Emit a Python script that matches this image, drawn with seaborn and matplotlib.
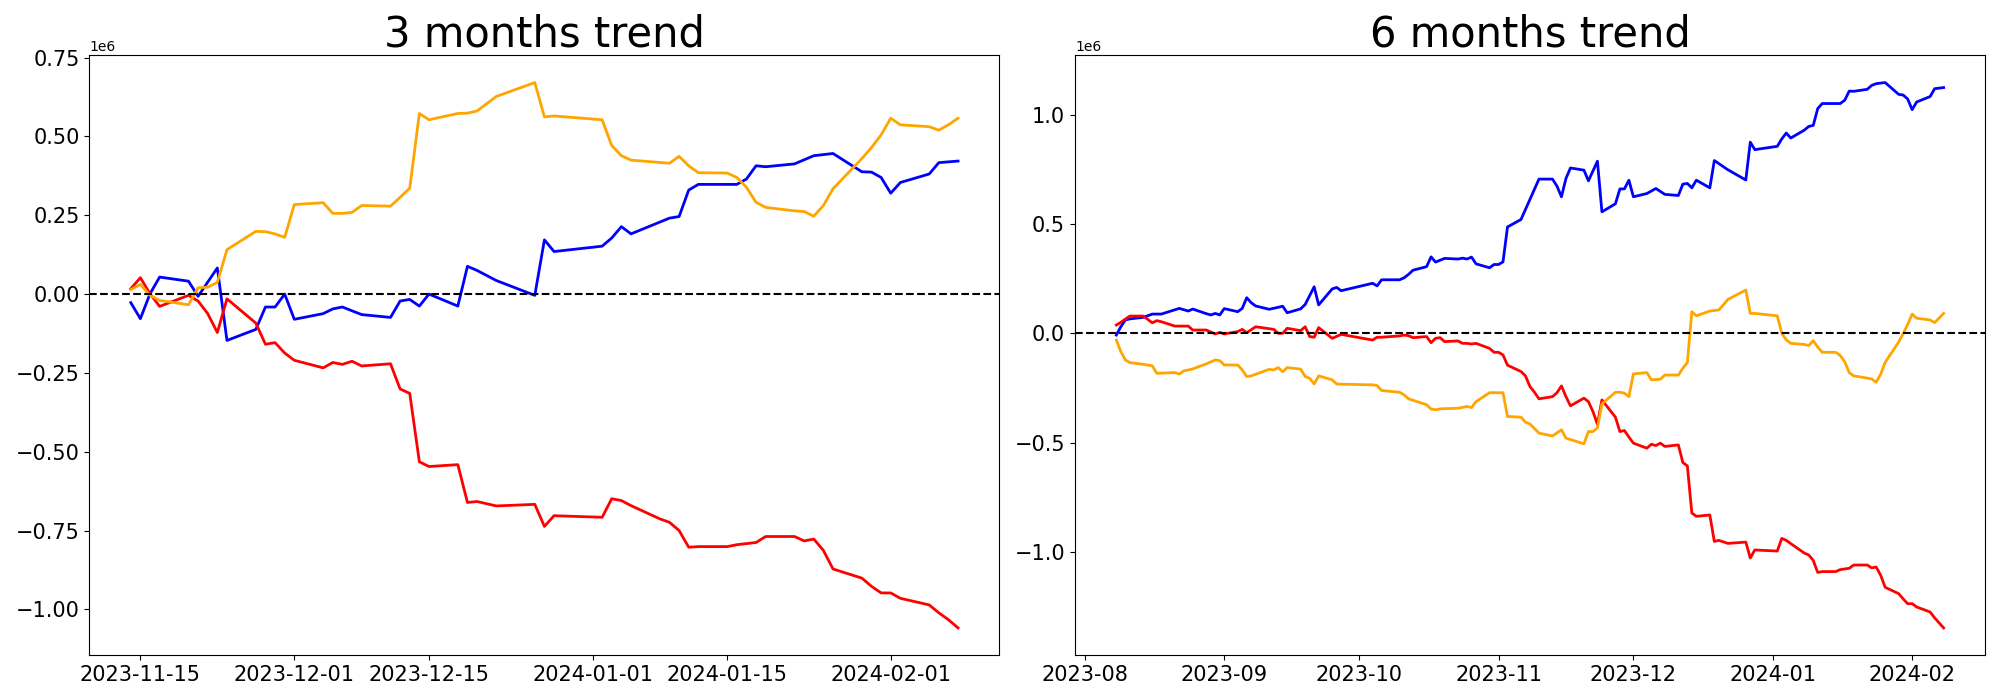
import pandas as pd
import matplotlib.pyplot as plt
import seaborn as sns

# values are in millions

# ---- 3 months ----
blue3_dates = ["2023-11-14", "2023-11-15", "2023-11-16", "2023-11-17", "2023-11-20", "2023-11-21",
               "2023-11-23", "2023-11-24", "2023-11-27", "2023-11-28", "2023-11-29", "2023-11-30",
               "2023-12-01", "2023-12-04", "2023-12-05", "2023-12-06", "2023-12-08", "2023-12-11",
               "2023-12-12", "2023-12-13", "2023-12-14", "2023-12-15", "2023-12-18", "2023-12-19",
               "2023-12-20", "2023-12-22", "2023-12-26", "2023-12-27", "2023-12-28", "2024-01-02",
               "2024-01-03", "2024-01-04", "2024-01-05", "2024-01-09", "2024-01-10", "2024-01-11",
               "2024-01-12", "2024-01-16", "2024-01-17", "2024-01-18", "2024-01-19", "2024-01-22",
               "2024-01-24", "2024-01-26", "2024-01-29", "2024-01-30", "2024-01-31", "2024-02-01",
               "2024-02-02", "2024-02-05", "2024-02-06", "2024-02-08"]
blue3_vals = [-0.027, -0.078, 0.001, 0.054, 0.041, -0.007,
              0.083, -0.147, -0.112, -0.041, -0.041, 0.000,
              -0.080, -0.062, -0.047, -0.041, -0.065, -0.074,
              -0.022, -0.017, -0.038, 0.000, -0.038, 0.088,
              0.075, 0.043, -0.004, 0.172, 0.135, 0.152,
              0.178, 0.214, 0.191, 0.241, 0.246, 0.330,
              0.348, 0.348, 0.365, 0.407, 0.404, 0.413,
              0.439, 0.446, 0.388, 0.387, 0.370, 0.320,
              0.354, 0.381, 0.417, 0.422]

orange3_dates = ["2023-11-14", "2023-11-15", "2023-11-16", "2023-11-17", "2023-11-20", "2023-11-21",
                 "2023-11-22", "2023-11-23", "2023-11-24", "2023-11-27", "2023-11-28", "2023-11-29",
                 "2023-11-30", "2023-12-01", "2023-12-04", "2023-12-05", "2023-12-06", "2023-12-07",
                 "2023-12-08", "2023-12-11", "2023-12-12", "2023-12-13", "2023-12-14", "2023-12-15",
                 "2023-12-18", "2023-12-19", "2023-12-20", "2023-12-22", "2023-12-26", "2023-12-27",
                 "2023-12-28", "2024-01-02", "2024-01-03", "2024-01-04", "2024-01-05", "2024-01-09",
                 "2024-01-10", "2024-01-11", "2024-01-12", "2024-01-15", "2024-01-16", "2024-01-17",
                 "2024-01-18", "2024-01-19", "2024-01-22", "2024-01-23", "2024-01-24", "2024-01-25",
                 "2024-01-26", "2024-01-29", "2024-01-30", "2024-01-31", "2024-02-01", "2024-02-02",
                 "2024-02-05", "2024-02-06", "2024-02-07", "2024-02-08"]
orange3_vals = [0.014, 0.031, -0.004, -0.020, -0.034, 0.020,
                0.022, 0.037, 0.141, 0.199, 0.198, 0.191,
                0.180, 0.284, 0.290, 0.256, 0.256, 0.259,
                0.281, 0.279, 0.307, 0.336, 0.573, 0.553,
                0.573, 0.574, 0.581, 0.627, 0.671, 0.562,
                0.565, 0.553, 0.471, 0.439, 0.425, 0.415,
                0.437, 0.407, 0.385, 0.384, 0.370, 0.339,
                0.291, 0.275, 0.264, 0.262, 0.247, 0.281,
                0.334, 0.430, 0.465, 0.505, 0.558, 0.537,
                0.531, 0.520, 0.537, 0.558]

red3_dates = ["2023-11-14", "2023-11-15", "2023-11-16", "2023-11-17", "2023-11-20", "2023-11-21",
              "2023-11-22", "2023-11-23", "2023-11-24", "2023-11-27", "2023-11-28", "2023-11-29",
              "2023-11-30", "2023-12-01", "2023-12-04", "2023-12-05", "2023-12-06", "2023-12-07",
              "2023-12-08", "2023-12-11", "2023-12-12", "2023-12-13", "2023-12-14", "2023-12-15",
              "2023-12-18", "2023-12-19", "2023-12-20", "2023-12-22", "2023-12-26", "2023-12-27",
              "2023-12-28", "2024-01-02", "2024-01-03", "2024-01-04", "2024-01-05", "2024-01-08",
              "2024-01-09", "2024-01-10", "2024-01-11", "2024-01-12", "2024-01-15", "2024-01-16",
              "2024-01-18", "2024-01-19", "2024-01-22", "2024-01-23", "2024-01-24", "2024-01-25",
              "2024-01-26", "2024-01-29", "2024-01-30", "2024-01-31", "2024-02-01", "2024-02-02",
              "2024-02-05", "2024-02-06", "2024-02-07", "2024-02-08"]
red3_vals = [0.017, 0.052, 0.001, -0.039, -0.004, -0.022,
             -0.062, -0.122, -0.015, -0.092, -0.159, -0.154,
             -0.187, -0.210, -0.234, -0.217, -0.223, -0.213,
             -0.228, -0.221, -0.301, -0.315, -0.532, -0.547,
             -0.541, -0.661, -0.658, -0.672, -0.667, -0.737,
             -0.703, -0.708, -0.649, -0.655, -0.671, -0.713,
             -0.724, -0.750, -0.803, -0.801, -0.801, -0.795,
             -0.788, -0.769, -0.769, -0.783, -0.777, -0.813,
             -0.872, -0.901, -0.927, -0.948, -0.948, -0.965,
             -0.986, -1.011, -1.033, -1.059]

# ---- 6 months ----
blue6_dates = ["2023-08-08", "2023-08-09", "2023-08-10", "2023-08-11", "2023-08-14", "2023-08-16",
               "2023-08-18", "2023-08-22", "2023-08-24", "2023-08-25", "2023-08-28", "2023-08-29",
               "2023-08-30", "2023-08-31", "2023-09-01", "2023-09-04", "2023-09-05", "2023-09-06",
               "2023-09-07", "2023-09-08", "2023-09-11", "2023-09-13", "2023-09-14", "2023-09-15",
               "2023-09-18", "2023-09-19", "2023-09-21", "2023-09-22", "2023-09-25", "2023-09-26",
               "2023-09-27", "2023-10-04", "2023-10-05", "2023-10-06", "2023-10-10", "2023-10-11",
               "2023-10-12", "2023-10-13", "2023-10-16", "2023-10-17", "2023-10-18", "2023-10-20",
               "2023-10-23", "2023-10-24", "2023-10-25", "2023-10-26", "2023-10-27", "2023-10-30",
               "2023-10-31", "2023-11-01", "2023-11-02", "2023-11-03", "2023-11-06", "2023-11-10",
               "2023-11-13", "2023-11-14", "2023-11-15", "2023-11-16", "2023-11-17", "2023-11-20",
               "2023-11-21", "2023-11-23", "2023-11-24", "2023-11-27", "2023-11-28", "2023-11-29",
               "2023-11-30", "2023-12-01", "2023-12-04", "2023-12-06", "2023-12-08", "2023-12-11",
               "2023-12-12", "2023-12-13", "2023-12-14", "2023-12-15", "2023-12-18", "2023-12-19",
               "2023-12-22", "2023-12-26", "2023-12-27", "2023-12-28", "2024-01-02", "2024-01-03",
               "2024-01-04", "2024-01-05", "2024-01-08", "2024-01-09", "2024-01-10", "2024-01-11",
               "2024-01-12", "2024-01-16", "2024-01-17", "2024-01-18", "2024-01-19", "2024-01-22",
               "2024-01-23", "2024-01-24", "2024-01-26", "2024-01-29", "2024-01-30", "2024-01-31",
               "2024-02-01", "2024-02-02", "2024-02-05", "2024-02-06", "2024-02-08"]
blue6_vals = [-0.008, 0.030, 0.061, 0.066, 0.073, 0.088,
              0.088, 0.114, 0.102, 0.111, 0.090, 0.084,
              0.091, 0.084, 0.113, 0.099, 0.114, 0.163,
              0.140, 0.125, 0.110, 0.119, 0.124, 0.094,
              0.112, 0.132, 0.213, 0.130, 0.203, 0.210,
              0.195, 0.229, 0.217, 0.245, 0.245, 0.254,
              0.270, 0.289, 0.305, 0.350, 0.326, 0.343,
              0.340, 0.344, 0.340, 0.349, 0.318, 0.300,
              0.315, 0.315, 0.327, 0.487, 0.521, 0.706,
              0.706, 0.674, 0.625, 0.709, 0.757, 0.747,
              0.698, 0.788, 0.556, 0.593, 0.661, 0.661,
              0.701, 0.625, 0.640, 0.663, 0.636, 0.631,
              0.683, 0.686, 0.666, 0.701, 0.666, 0.791,
              0.749, 0.702, 0.875, 0.841, 0.856, 0.890,
              0.917, 0.894, 0.930, 0.947, 0.952, 1.029,
              1.052, 1.052, 1.067, 1.109, 1.108, 1.117,
              1.135, 1.143, 1.148, 1.094, 1.091, 1.073,
              1.024, 1.059, 1.084, 1.120, 1.125]

orange6_dates = ["2023-08-08", "2023-08-09", "2023-08-10", "2023-08-11", "2023-08-14", "2023-08-16",
                 "2023-08-17", "2023-08-21", "2023-08-22", "2023-08-23", "2023-08-24", "2023-08-25",
                 "2023-08-28", "2023-08-30", "2023-08-31", "2023-09-01", "2023-09-04", "2023-09-05",
                 "2023-09-06", "2023-09-07", "2023-09-11", "2023-09-12", "2023-09-13", "2023-09-14",
                 "2023-09-15", "2023-09-18", "2023-09-19", "2023-09-20", "2023-09-21", "2023-09-22",
                 "2023-09-25", "2023-09-26", "2023-09-27", "2023-10-04", "2023-10-05", "2023-10-06",
                 "2023-10-10", "2023-10-11", "2023-10-12", "2023-10-16", "2023-10-17", "2023-10-18",
                 "2023-10-19", "2023-10-23", "2023-10-25", "2023-10-26", "2023-10-27", "2023-10-30",
                 "2023-10-31", "2023-11-02", "2023-11-03", "2023-11-06", "2023-11-07", "2023-11-08",
                 "2023-11-10", "2023-11-13", "2023-11-14", "2023-11-15", "2023-11-16", "2023-11-20",
                 "2023-11-21", "2023-11-22", "2023-11-23", "2023-11-24", "2023-11-27", "2023-11-28",
                 "2023-11-29", "2023-11-30", "2023-12-01", "2023-12-04", "2023-12-05", "2023-12-07",
                 "2023-12-08", "2023-12-11", "2023-12-12", "2023-12-13", "2023-12-14", "2023-12-15",
                 "2023-12-18", "2023-12-20", "2023-12-21", "2023-12-22", "2023-12-26", "2023-12-27",
                 "2023-12-28", "2024-01-02", "2024-01-03", "2024-01-04", "2024-01-05", "2024-01-08",
                 "2024-01-09", "2024-01-10", "2024-01-11", "2024-01-12", "2024-01-15", "2024-01-16",
                 "2024-01-17", "2024-01-18", "2024-01-19", "2024-01-22", "2024-01-23", "2024-01-24",
                 "2024-01-25", "2024-01-26", "2024-01-29", "2024-01-30", "2024-01-31", "2024-02-01",
                 "2024-02-02", "2024-02-05", "2024-02-06", "2024-02-07", "2024-02-08"]
orange6_vals = [-0.031, -0.084, -0.122, -0.134, -0.142, -0.149,
                -0.183, -0.180, -0.187, -0.172, -0.168, -0.163,
                -0.140, -0.122, -0.125, -0.145, -0.145, -0.168,
                -0.198, -0.195, -0.165, -0.168, -0.157, -0.176,
                -0.157, -0.164, -0.198, -0.206, -0.232, -0.195,
                -0.213, -0.232, -0.233, -0.236, -0.239, -0.262,
                -0.270, -0.282, -0.300, -0.327, -0.347, -0.350,
                -0.346, -0.343, -0.335, -0.340, -0.313, -0.272,
                -0.272, -0.272, -0.381, -0.384, -0.407, -0.415,
                -0.457, -0.470, -0.456, -0.442, -0.480, -0.506,
                -0.450, -0.450, -0.434, -0.323, -0.270, -0.270,
                -0.274, -0.290, -0.186, -0.180, -0.213, -0.210,
                -0.191, -0.191, -0.160, -0.134, 0.099, 0.080,
                0.102, 0.107, 0.130, 0.155, 0.198, 0.091,
                0.091, 0.080, 0.000, -0.030, -0.046, -0.051,
                -0.056, -0.034, -0.063, -0.087, -0.087, -0.102,
                -0.130, -0.180, -0.195, -0.205, -0.209, -0.224,
                -0.187, -0.133, -0.040, -0.001, 0.040, 0.088,
                0.069, 0.061, 0.049, 0.070, 0.091]

red6_dates = ["2023-08-08", "2023-08-09", "2023-08-10", "2023-08-11", "2023-08-14", "2023-08-16",
              "2023-08-17", "2023-08-18", "2023-08-21", "2023-08-24", "2023-08-25", "2023-08-28",
              "2023-08-30", "2023-08-31", "2023-09-01", "2023-09-04", "2023-09-05", "2023-09-06",
              "2023-09-08", "2023-09-12", "2023-09-13", "2023-09-14", "2023-09-15", "2023-09-18",
              "2023-09-19", "2023-09-20", "2023-09-21", "2023-09-22", "2023-09-25", "2023-09-27",
              "2023-10-04", "2023-10-05", "2023-10-06", "2023-10-10", "2023-10-11", "2023-10-12",
              "2023-10-13", "2023-10-16", "2023-10-17", "2023-10-18", "2023-10-19", "2023-10-20",
              "2023-10-23", "2023-10-24", "2023-10-25", "2023-10-26", "2023-10-27", "2023-10-30",
              "2023-10-31", "2023-11-01", "2023-11-02", "2023-11-03", "2023-11-06", "2023-11-07",
              "2023-11-08", "2023-11-09", "2023-11-10", "2023-11-13", "2023-11-14", "2023-11-15",
              "2023-11-16", "2023-11-17", "2023-11-20", "2023-11-21", "2023-11-22", "2023-11-23",
              "2023-11-24", "2023-11-27", "2023-11-28", "2023-11-29", "2023-11-30", "2023-12-01",
              "2023-12-04", "2023-12-05", "2023-12-06", "2023-12-07", "2023-12-08", "2023-12-11",
              "2023-12-12", "2023-12-13", "2023-12-14", "2023-12-15", "2023-12-18", "2023-12-19",
              "2023-12-20", "2023-12-22", "2023-12-26", "2023-12-27", "2023-12-28", "2024-01-02",
              "2024-01-03", "2024-01-04", "2024-01-05", "2024-01-08", "2024-01-09", "2024-01-10",
              "2024-01-11", "2024-01-12", "2024-01-15", "2024-01-16", "2024-01-17", "2024-01-18",
              "2024-01-19", "2024-01-22", "2024-01-23", "2024-01-24", "2024-01-25", "2024-01-26",
              "2024-01-29", "2024-01-30", "2024-01-31", "2024-02-01", "2024-02-02", "2024-02-05",
              "2024-02-06", "2024-02-08"]
red6_vals = [0.038, 0.050, 0.065, 0.079, 0.079, 0.048,
             0.058, 0.053, 0.033, 0.033, 0.015, 0.015,
             -0.003, 0.004, -0.003, 0.008, 0.018, 0.003,
             0.030, 0.018, 0.000, 0.000, 0.023, 0.012,
             0.030, -0.015, -0.018, 0.026, -0.023, -0.005,
             -0.031, -0.018, -0.018, -0.012, -0.008, -0.011,
             -0.020, -0.015, -0.043, -0.023, -0.020, -0.038,
             -0.035, -0.046, -0.046, -0.049, -0.046, -0.069,
             -0.087, -0.087, -0.099, -0.146, -0.175, -0.195,
             -0.244, -0.270, -0.300, -0.290, -0.272, -0.241,
             -0.290, -0.332, -0.297, -0.313, -0.358, -0.416,
             -0.305, -0.384, -0.450, -0.445, -0.475, -0.503,
             -0.526, -0.508, -0.514, -0.503, -0.518, -0.511,
             -0.592, -0.607, -0.823, -0.838, -0.832, -0.953,
             -0.948, -0.962, -0.956, -1.029, -0.992, -0.997,
             -0.939, -0.948, -0.963, -1.006, -1.015, -1.040,
             -1.095, -1.091, -1.091, -1.082, -1.079, -1.076,
             -1.061, -1.061, -1.074, -1.070, -1.108, -1.163,
             -1.192, -1.216, -1.238, -1.238, -1.253, -1.276,
             -1.303, -1.349]

panels = [
    ("3 months trend", [(blue3_dates, blue3_vals, "blue"),
                        (red3_dates, red3_vals, "red"),
                        (orange3_dates, orange3_vals, "orange")]),
    ("6 months trend", [(blue6_dates, blue6_vals, "blue"),
                        (red6_dates, red6_vals, "red"),
                        (orange6_dates, orange6_vals, "orange")]),
]

fig, axes = plt.subplots(1, 2, figsize=(20, 7), dpi=100)
plt.subplots_adjust(left=0.0447, right=0.9925, bottom=0.064, top=0.921, wspace=0.083)

for ax, (title, series) in zip(axes, panels):
    for dates, vals, color in series:
        df = pd.DataFrame({"date": pd.to_datetime(dates),
                           "value": [v * 1e6 for v in vals]})
        sns.lineplot(data=df, x="date", y="value", color=color, linewidth=2,
                     estimator=None, ax=ax)
    ax.axhline(0, color="black", linestyle="--", linewidth=1.5)
    ax.set_title(title, fontsize=30)
    ax.set_xlabel("")
    ax.set_ylabel("")
    ax.tick_params(labelsize=15)

plt.savefig("out.png")
